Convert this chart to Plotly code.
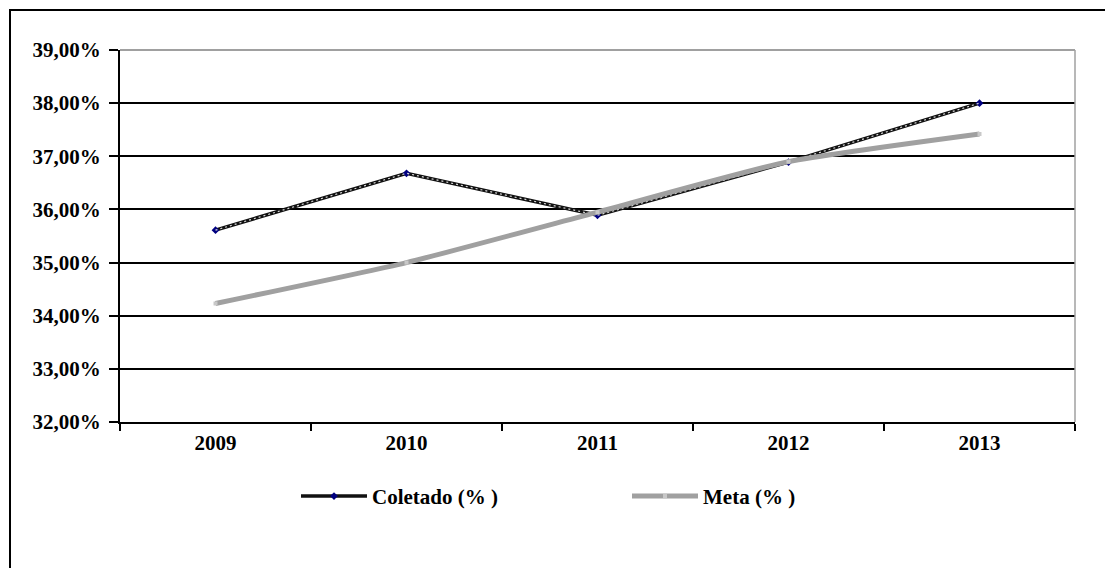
import plotly.graph_objects as go

years = ["2009", "2010", "2011", "2012", "2013"]
coletado = [35.61, 36.68, 35.89, 36.89, 38.00]
meta = [34.23, 35.00, 35.95, 36.90, 37.42]
y_ticks = [32, 33, 34, 35, 36, 37, 38, 39]
y_labels = [f"{v:.2f}%".replace(".", ",") for v in y_ticks]

FONT = "Liberation Serif"
FS = 21

fig = go.Figure()

fig.add_trace(go.Scatter(
    x=years, y=coletado, name="Coletado (% )", mode="lines+markers",
    line=dict(color="#111111", width=3.5),
    marker=dict(symbol="diamond", size=6, color="#000080"),
))
fig.add_trace(go.Scatter(
    x=years, y=coletado, mode="lines", showlegend=False, hoverinfo="skip",
    line=dict(color="#d8d8d8", width=1.2, dash="2px,3px"),
))
fig.add_trace(go.Scatter(
    x=years, y=meta, name="Meta (% )", mode="lines+markers",
    line=dict(color="#a0a0a0", width=5, shape="spline", smoothing=0.5),
    marker=dict(symbol="square", size=4, color="#c8c8c8"),
))

fig.update_layout(
    width=1105, height=568,
    margin=dict(l=120, r=30, t=50, b=146),
    paper_bgcolor="white", plot_bgcolor="white",
    font=dict(family=FONT, size=FS, color="black", weight="bold"),
    showlegend=True,
    legend=dict(
        orientation="h", x=(296 - 120) / 955, xanchor="left", y=-0.2, yanchor="middle",
        itemwidth=66, entrywidth=250, entrywidthmode="pixels",
        font=dict(family=FONT, size=FS, color="black", weight="bold"),
        bgcolor="rgba(0,0,0,0)",
    ),
    xaxis=dict(
        type="category", range=[-0.5, 4.5], tickson="boundaries",
        ticks="outside", ticklen=7,
        tickcolor="black", tickwidth=1.5,
        showline=True, linecolor="black", linewidth=2,
        showgrid=False, zeroline=False, ticklabelstandoff=1,
        tickfont=dict(family=FONT, size=FS, weight="bold"),
    ),
    yaxis=dict(
        range=[32, 39], tickvals=y_ticks, ticktext=y_labels,
        ticks="outside", ticklen=9, tickcolor="black", tickwidth=1.5,
        showline=True, linecolor="black", linewidth=2,
        showgrid=True, gridcolor="black", gridwidth=1.5,
        zeroline=False, ticklabelstandoff=4,
        tickfont=dict(family=FONT, size=FS, weight="bold"),
    ),
    shapes=[
        dict(type="line", xref="paper", yref="paper", x0=0, x1=1, y0=1, y1=1,
             line=dict(color="#808080", width=1.5)),
        dict(type="line", xref="paper", yref="paper", x0=1, x1=1, y0=0, y1=1,
             line=dict(color="#a0a0a0", width=1.5)),
        dict(type="rect", xref="paper", yref="paper",
             x0=(10 - 120) / 955, x1=1.2, y0=-0.6, y1=(422 - 10) / 372,
             line=dict(color="black", width=2), fillcolor="rgba(0,0,0,0)",
             layer="below"),
    ],
)

fig.write_html("out.html")
